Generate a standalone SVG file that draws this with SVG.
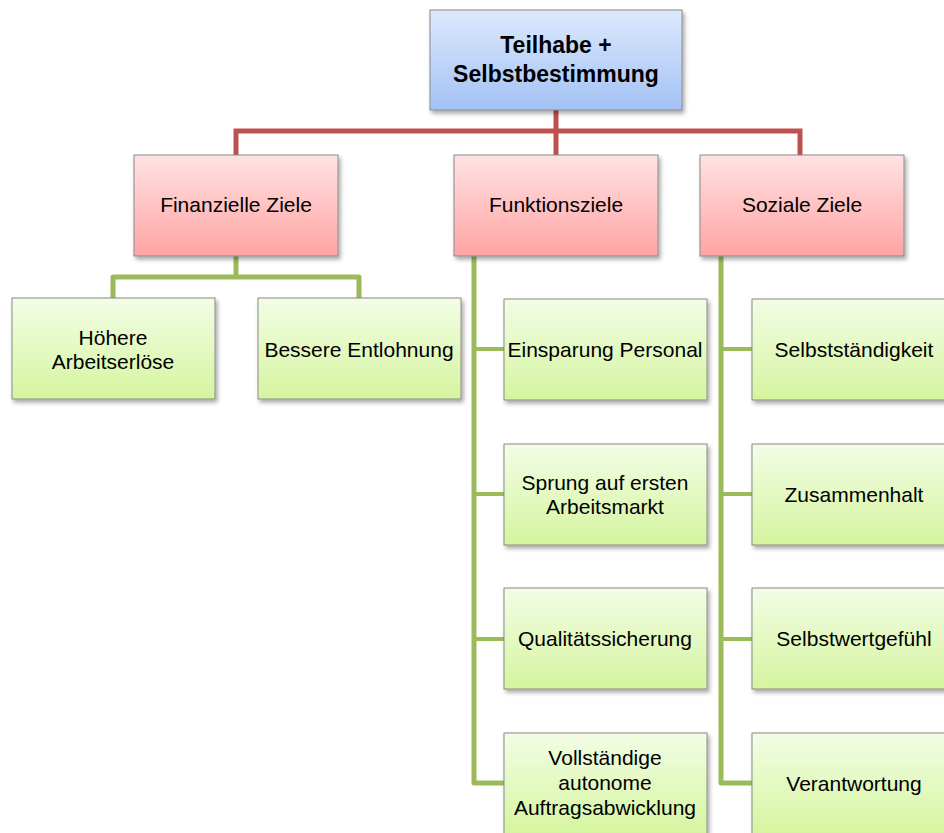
<svg xmlns="http://www.w3.org/2000/svg" width="944" height="833" viewBox="0 0 944 833">
  <defs>
    <linearGradient id="gBlue" x1="0" y1="0" x2="0" y2="1">
      <stop offset="0" stop-color="#dde9fc"/>
      <stop offset="1" stop-color="#a3c2f5"/>
    </linearGradient>
    <linearGradient id="gRed" x1="0" y1="0" x2="0" y2="1">
      <stop offset="0" stop-color="#ffe2e2"/>
      <stop offset="1" stop-color="#ffa4a4"/>
    </linearGradient>
    <linearGradient id="gGreen" x1="0" y1="0" x2="0" y2="1">
      <stop offset="0" stop-color="#f3fde6"/>
      <stop offset="1" stop-color="#d5f59f"/>
    </linearGradient>
    <filter id="shadow" x="-10%" y="-10%" width="125%" height="130%">
      <feDropShadow dx="2" dy="3" stdDeviation="2" flood-color="#000" flood-opacity="0.35"/>
    </filter>
  </defs>
  <style>
    .box { stroke: #8a8a8a; stroke-width: 1; filter: url(#shadow); }
    .blue { fill: url(#gBlue); }
    .red { fill: url(#gRed); }
    .green { fill: url(#gGreen); }
    .lbl { font-family: "Liberation Sans", Arial, sans-serif; font-size: 21px; fill: #000; text-anchor: middle; }
    .title { font-family: "Liberation Sans", Arial, sans-serif; font-size: 23px; font-weight: bold; fill: #000; text-anchor: middle; }
    .redline { fill: none; stroke: #c0504d; stroke-width: 5; }
    .greenline { fill: none; stroke: #9bbb59; stroke-width: 5; stroke-linejoin: round; }
    .stub { fill: none; stroke: #9bbb59; stroke-width: 4; }
  </style>

  <g id="connectors">
    <!-- root to level 1 -->
    <path class="redline" d="M556 110 V131 M236 155 V131 H800 V155 M556 131 V155"/>
    <!-- Finanzielle Ziele children -->
    <path class="greenline" d="M236 256 V277 M113 298 V277 H359 V298"/>
    <!-- Funktionsziele children -->
    <path class="greenline" d="M474 256 V783 H504"/>
    <path class="stub" d="M474 349 H504 M474 494 H504 M474 639 H504"/>
    <!-- Soziale Ziele children -->
    <path class="greenline" d="M721 256 V783 H752"/>
    <path class="stub" d="M721 349 H752 M721 494 H752 M721 639 H752"/>
  </g>

  <g id="root">
    <rect class="box blue" x="430" y="10" width="252" height="100"/>
    <text class="title" x="556" y="53">Teilhabe +</text>
    <text class="title" x="556" y="82">Selbstbestimmung</text>
  </g>

  <g id="finanzielle-ziele">
    <rect class="box red" x="134" y="155" width="204" height="101"/>
    <text class="lbl" x="236" y="212">Finanzielle Ziele</text>
  </g>
  <g id="funktionsziele">
    <rect class="box red" x="454" y="155" width="204" height="101"/>
    <text class="lbl" x="556" y="212">Funktionsziele</text>
  </g>
  <g id="soziale-ziele">
    <rect class="box red" x="700" y="155" width="204" height="101"/>
    <text class="lbl" x="802" y="212">Soziale Ziele</text>
  </g>

  <g id="hoehere-arbeitserloese">
    <rect class="box green" x="12" y="298" width="203" height="101"/>
    <text class="lbl" x="113" y="345">Höhere</text>
    <text class="lbl" x="113" y="369">Arbeitserlöse</text>
  </g>
  <g id="bessere-entlohnung">
    <rect class="box green" x="258" y="298" width="203" height="101"/>
    <text class="lbl" x="359" y="357">Bessere Entlohnung</text>
  </g>

  <g id="einsparung-personal">
    <rect class="box green" x="504" y="299" width="203" height="101"/>
    <text class="lbl" x="605" y="357">Einsparung Personal</text>
  </g>
  <g id="sprung-arbeitsmarkt">
    <rect class="box green" x="504" y="444" width="203" height="101"/>
    <text class="lbl" x="605" y="490">Sprung auf ersten</text>
    <text class="lbl" x="605" y="514">Arbeitsmarkt</text>
  </g>
  <g id="qualitaetssicherung">
    <rect class="box green" x="504" y="588" width="203" height="101"/>
    <text class="lbl" x="605" y="646">Qualitätssicherung</text>
  </g>
  <g id="auftragsabwicklung">
    <rect class="box green" x="504" y="733" width="203" height="101"/>
    <text class="lbl" x="605" y="765">Vollständige</text>
    <text class="lbl" x="605" y="790">autonome</text>
    <text class="lbl" x="605" y="815">Auftragsabwicklung</text>
  </g>

  <g id="selbststaendigkeit">
    <rect class="box green" x="752" y="299" width="204" height="101"/>
    <text class="lbl" x="854" y="357">Selbstständigkeit</text>
  </g>
  <g id="zusammenhalt">
    <rect class="box green" x="752" y="444" width="204" height="101"/>
    <text class="lbl" x="854" y="502">Zusammenhalt</text>
  </g>
  <g id="selbstwertgefuehl">
    <rect class="box green" x="752" y="588" width="204" height="101"/>
    <text class="lbl" x="854" y="646">Selbstwertgefühl</text>
  </g>
  <g id="verantwortung">
    <rect class="box green" x="752" y="733" width="204" height="101"/>
    <text class="lbl" x="854" y="791">Verantwortung</text>
  </g>
</svg>
